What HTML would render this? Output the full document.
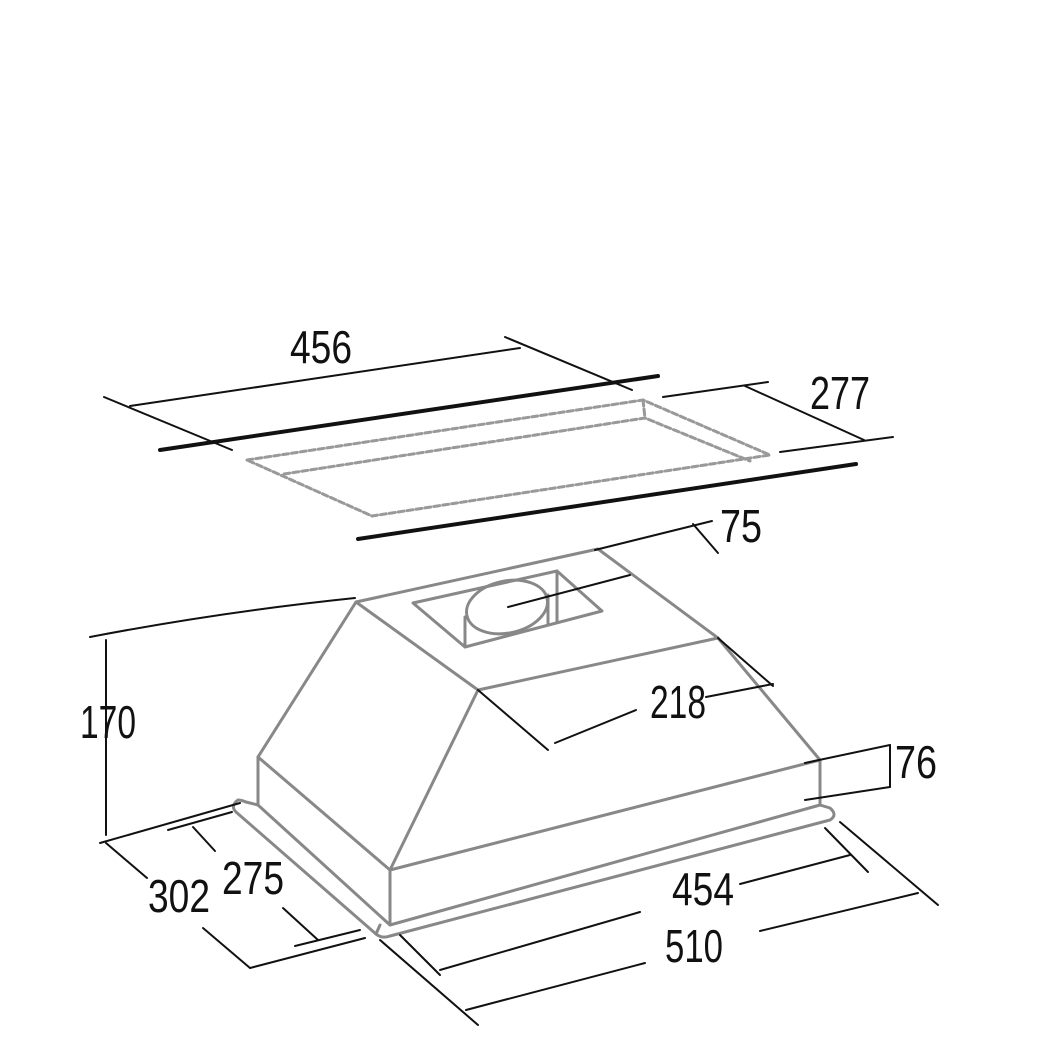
<!DOCTYPE html>
<html><head><meta charset="utf-8"><style>html,body{margin:0;padding:0;background:#fff}svg{display:block}</style></head>
<body>
<svg width="1063" height="1063" viewBox="0 0 1063 1063" xmlns="http://www.w3.org/2000/svg">
<g fill="none" stroke-linecap="round" stroke-linejoin="round">
<!-- top cutout -->
<g stroke="#999" stroke-width="3" stroke-dasharray="6,3">
<path d="M247,460 L643,400 L770,455 L372,516 Z"/>
<path d="M284,474 L645,418 L750,461"/>
<path d="M643,400 L645,418"/>
</g>
<g stroke="#111">
<path d="M160,450 L658,376" stroke-width="4"/>
<path d="M358,539 L856,464" stroke-width="4"/>
<path d="M130,406 L520,348" stroke-width="2"/>
<path d="M104,397 L232,450" stroke-width="2"/>
<path d="M505,337 L632,390" stroke-width="2"/>
<path d="M663,397 L768,382" stroke-width="2"/>
<path d="M780,452 L893,437" stroke-width="2"/>
<path d="M745,386 L864,440" stroke-width="2"/>
</g>
<!-- hood -->
<g stroke="#888" stroke-width="3">
<path d="M356,602 L598,549 L718,638 L478,690 Z"/>
<path d="M413,603 L557,571 L602,611 L465,647 Z"/>
<path d="M557,571 L557,622"/>
<path d="M465,617 L465,647"/>
<ellipse cx="507" cy="607" rx="41" ry="26" transform="rotate(-12 507 607)"/>
<path d="M548,595 L548,624"/>
<path d="M356,602 L258,757 L258,805"/>
<path d="M478,690 L390,870 L390,925"/>
<path d="M718,638 L820,760 L820,805"/>
<path d="M390,870 L820,760"/>
<path d="M258,757 L390,870"/>
<path d="M238,800 Q230,806 236,812 L376,934 Q382,939 390,936 L830,820 Q838,815 830,808 L820,805 L390,925 L258,805 L246,802 Q241,800 238,800 Z"/>
<path d="M380,925 L376,934"/>
</g>
<g stroke="#111" stroke-width="2">
<path d="M508,607 L630,575"/>
<path d="M595,550 L712,521"/>
<path d="M693,524 L718,553"/>
<path d="M90,637 Q220,612 355,598"/>
<path d="M106,640 L106,835"/>
<path d="M100,843 L240,803"/>
<path d="M478,690 L548,750"/>
<path d="M555,743 L636,710"/>
<path d="M706,697 L773,684"/>
<path d="M718,638 L773,686"/>
<path d="M805,763 L890,745"/>
<path d="M805,800 L890,787"/>
<path d="M890,745 L890,787"/>
<path d="M168,830 L232,812"/>
<path d="M106,843 L147,878"/>
<path d="M203,928 L250,968"/>
<path d="M250,968 L365,938"/>
<path d="M193,827 L215,851"/>
<path d="M283,908 L318,940"/>
<path d="M295,946 L360,930"/>
<path d="M400,935 L440,975"/>
<path d="M440,970 L640,912"/>
<path d="M740,884 L850,855"/>
<path d="M825,828 L868,872"/>
<path d="M380,940 L478,1025"/>
<path d="M466,1010 L645,963"/>
<path d="M760,931 L918,893"/>
<path d="M840,822 L938,905"/>
</g>
</g>
<g font-family="'Liberation Sans Narrow','Liberation Sans',sans-serif" font-size="46" fill="#111">
<text x="290" y="363" textLength="62" lengthAdjust="spacingAndGlyphs">456</text>
<text x="810" y="409" textLength="60" lengthAdjust="spacingAndGlyphs">277</text>
<text x="720" y="542" textLength="42" lengthAdjust="spacingAndGlyphs">75</text>
<text x="80" y="738" textLength="56" lengthAdjust="spacingAndGlyphs">170</text>
<text x="650" y="718" textLength="56" lengthAdjust="spacingAndGlyphs">218</text>
<text x="895" y="778" textLength="42" lengthAdjust="spacingAndGlyphs">76</text>
<text x="148" y="912" textLength="62" lengthAdjust="spacingAndGlyphs">302</text>
<text x="222" y="894" textLength="62" lengthAdjust="spacingAndGlyphs">275</text>
<text x="672" y="905" textLength="62" lengthAdjust="spacingAndGlyphs">454</text>
<text x="665" y="962" textLength="58" lengthAdjust="spacingAndGlyphs">510</text>
</g>
</svg>
</body></html>
